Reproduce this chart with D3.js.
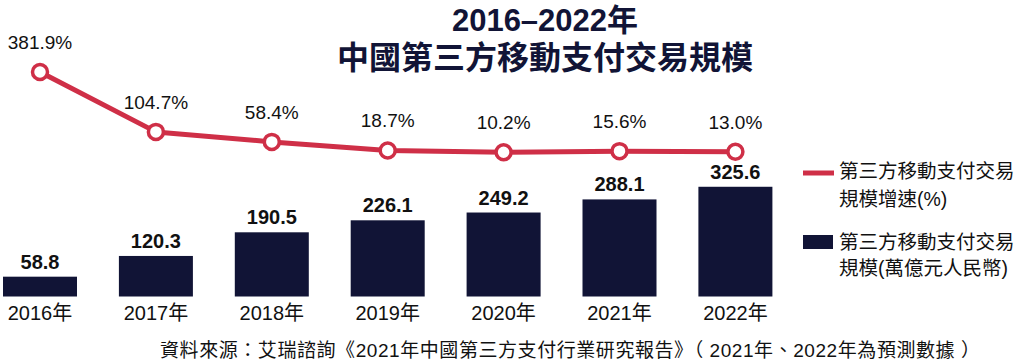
<!DOCTYPE html>
<html><head><meta charset="utf-8">
<script src="https://cdn.jsdelivr.net/npm/d3@7"></script>
<style>
body{margin:0;background:#fff;}
svg text{font-family:"Liberation Sans","Noto Sans CJK TC",sans-serif;}
</style></head>
<body><svg id="c" width="1021" height="364"></svg>
<script>
const years = ["2016年","2017年","2018年","2019年","2020年","2021年","2022年"];
const scaleValues = [58.8,120.3,190.5,226.1,249.2,288.1,325.6];
const growthValues = [381.9,104.7,58.4,18.7,10.2,15.6,13.0];
const growthLabels = ["381.9%","104.7%","58.4%","18.7%","10.2%","15.6%","13.0%"];
const titleLines = ["2016–2022年","中國第三方移動支付交易規模"];
const legendLine = ["第三方移動支付交易","規模增速(%)"];
const legendBar = ["第三方移動支付交易","規模(萬億元人民幣)"];
const sourceText = "資料來源：艾瑞諮詢《2021年中國第三方支付行業研究報告》（ 2021年、2022年為預測數據 ）";

const RED = "#cf2f47", NAVY = "#111436", TXT = "#111";
const svg = d3.select("#c");

const x = d3.scaleBand().domain(years).range([-17.95, 793.35]).paddingInner(0.3615).paddingOuter(0.18075);
const yBar = d3.scaleLinear().domain([0,400]).range([296.5,161.7]);
const yLine = d3.scaleLinear().domain([0,400]).range([154.5,68.1]);
const cx = d => x(d) + x.bandwidth()/2;

// bars
svg.selectAll("rect.bar").data(years).join("rect")
  .attr("x", d => x(d)).attr("width", x.bandwidth())
  .attr("y", (d,i) => yBar(scaleValues[i]))
  .attr("height", (d,i) => yBar(0) - yBar(scaleValues[i]))
  .attr("fill", NAVY);

svg.selectAll("text.bv").data(years).join("text")
  .attr("x", cx).attr("y", (d,i) => yBar(scaleValues[i]) - 8)
  .attr("text-anchor","middle").attr("font-size",20).attr("font-weight","bold").attr("fill",TXT)
  .text((d,i) => scaleValues[i].toFixed(1));

// x axis labels
const xAxis = d3.axisBottom(x).tickSize(0).tickPadding(0);
const gx = svg.append("g").attr("transform","translate(0,"+yBar(0)+")").call(xAxis);
gx.select(".domain").remove();
gx.selectAll("text").attr("font-size",20).attr("fill",TXT).attr("dy","1.15em")
  .attr("font-family","'Liberation Sans','Noto Sans CJK TC',sans-serif");

// line
const line = d3.line().x((d,i) => cx(years[i])).y(d => yLine(d));
svg.append("path").datum(growthValues).attr("d", line)
  .attr("fill","none").attr("stroke",RED).attr("stroke-width",5).attr("stroke-linejoin","round");
svg.selectAll("circle.pt").data(growthValues).join("circle")
  .attr("cx",(d,i)=>cx(years[i])).attr("cy",d=>yLine(d)).attr("r",7.5)
  .attr("fill","#fff").attr("stroke",RED).attr("stroke-width",3.5);
svg.selectAll("text.pl").data(growthValues).join("text")
  .attr("x",(d,i)=>cx(years[i])).attr("y",d=>yLine(d)-23)
  .attr("text-anchor","middle").attr("font-size",19).attr("fill",TXT)
  .text((d,i)=>growthLabels[i]);

// title
svg.selectAll("text.title").data(titleLines).join("text")
  .attr("x",545).attr("y",(d,i)=> i===0 ? 31 : 69)
  .attr("text-anchor","middle").attr("font-weight","bold").attr("fill",NAVY)
  .attr("font-size",(d,i)=> i===0 ? 31 : 32)
  .text(d=>d);

// legend
const lg = svg.append("g");
lg.append("line").attr("x1",803).attr("x2",834).attr("y1",173).attr("y2",173).attr("stroke",RED).attr("stroke-width",5);
legendLine.forEach((t,i)=>lg.append("text").attr("x",839).attr("y",178+i*28).attr("font-size",19.5).attr("fill",TXT).text(t));
lg.append("rect").attr("x",803).attr("y",235).attr("width",30).attr("height",14).attr("fill",NAVY);
legendBar.forEach((t,i)=>lg.append("text").attr("x",839).attr("y",249+i*26).attr("font-size",19.5).attr("fill",TXT).text(t));

// source
svg.append("text").attr("x",160).attr("y",357).attr("font-size",19).attr("fill",TXT)
  .attr("textLength",820).attr("lengthAdjust","spacing").text(sourceText);
</script></body></html>
